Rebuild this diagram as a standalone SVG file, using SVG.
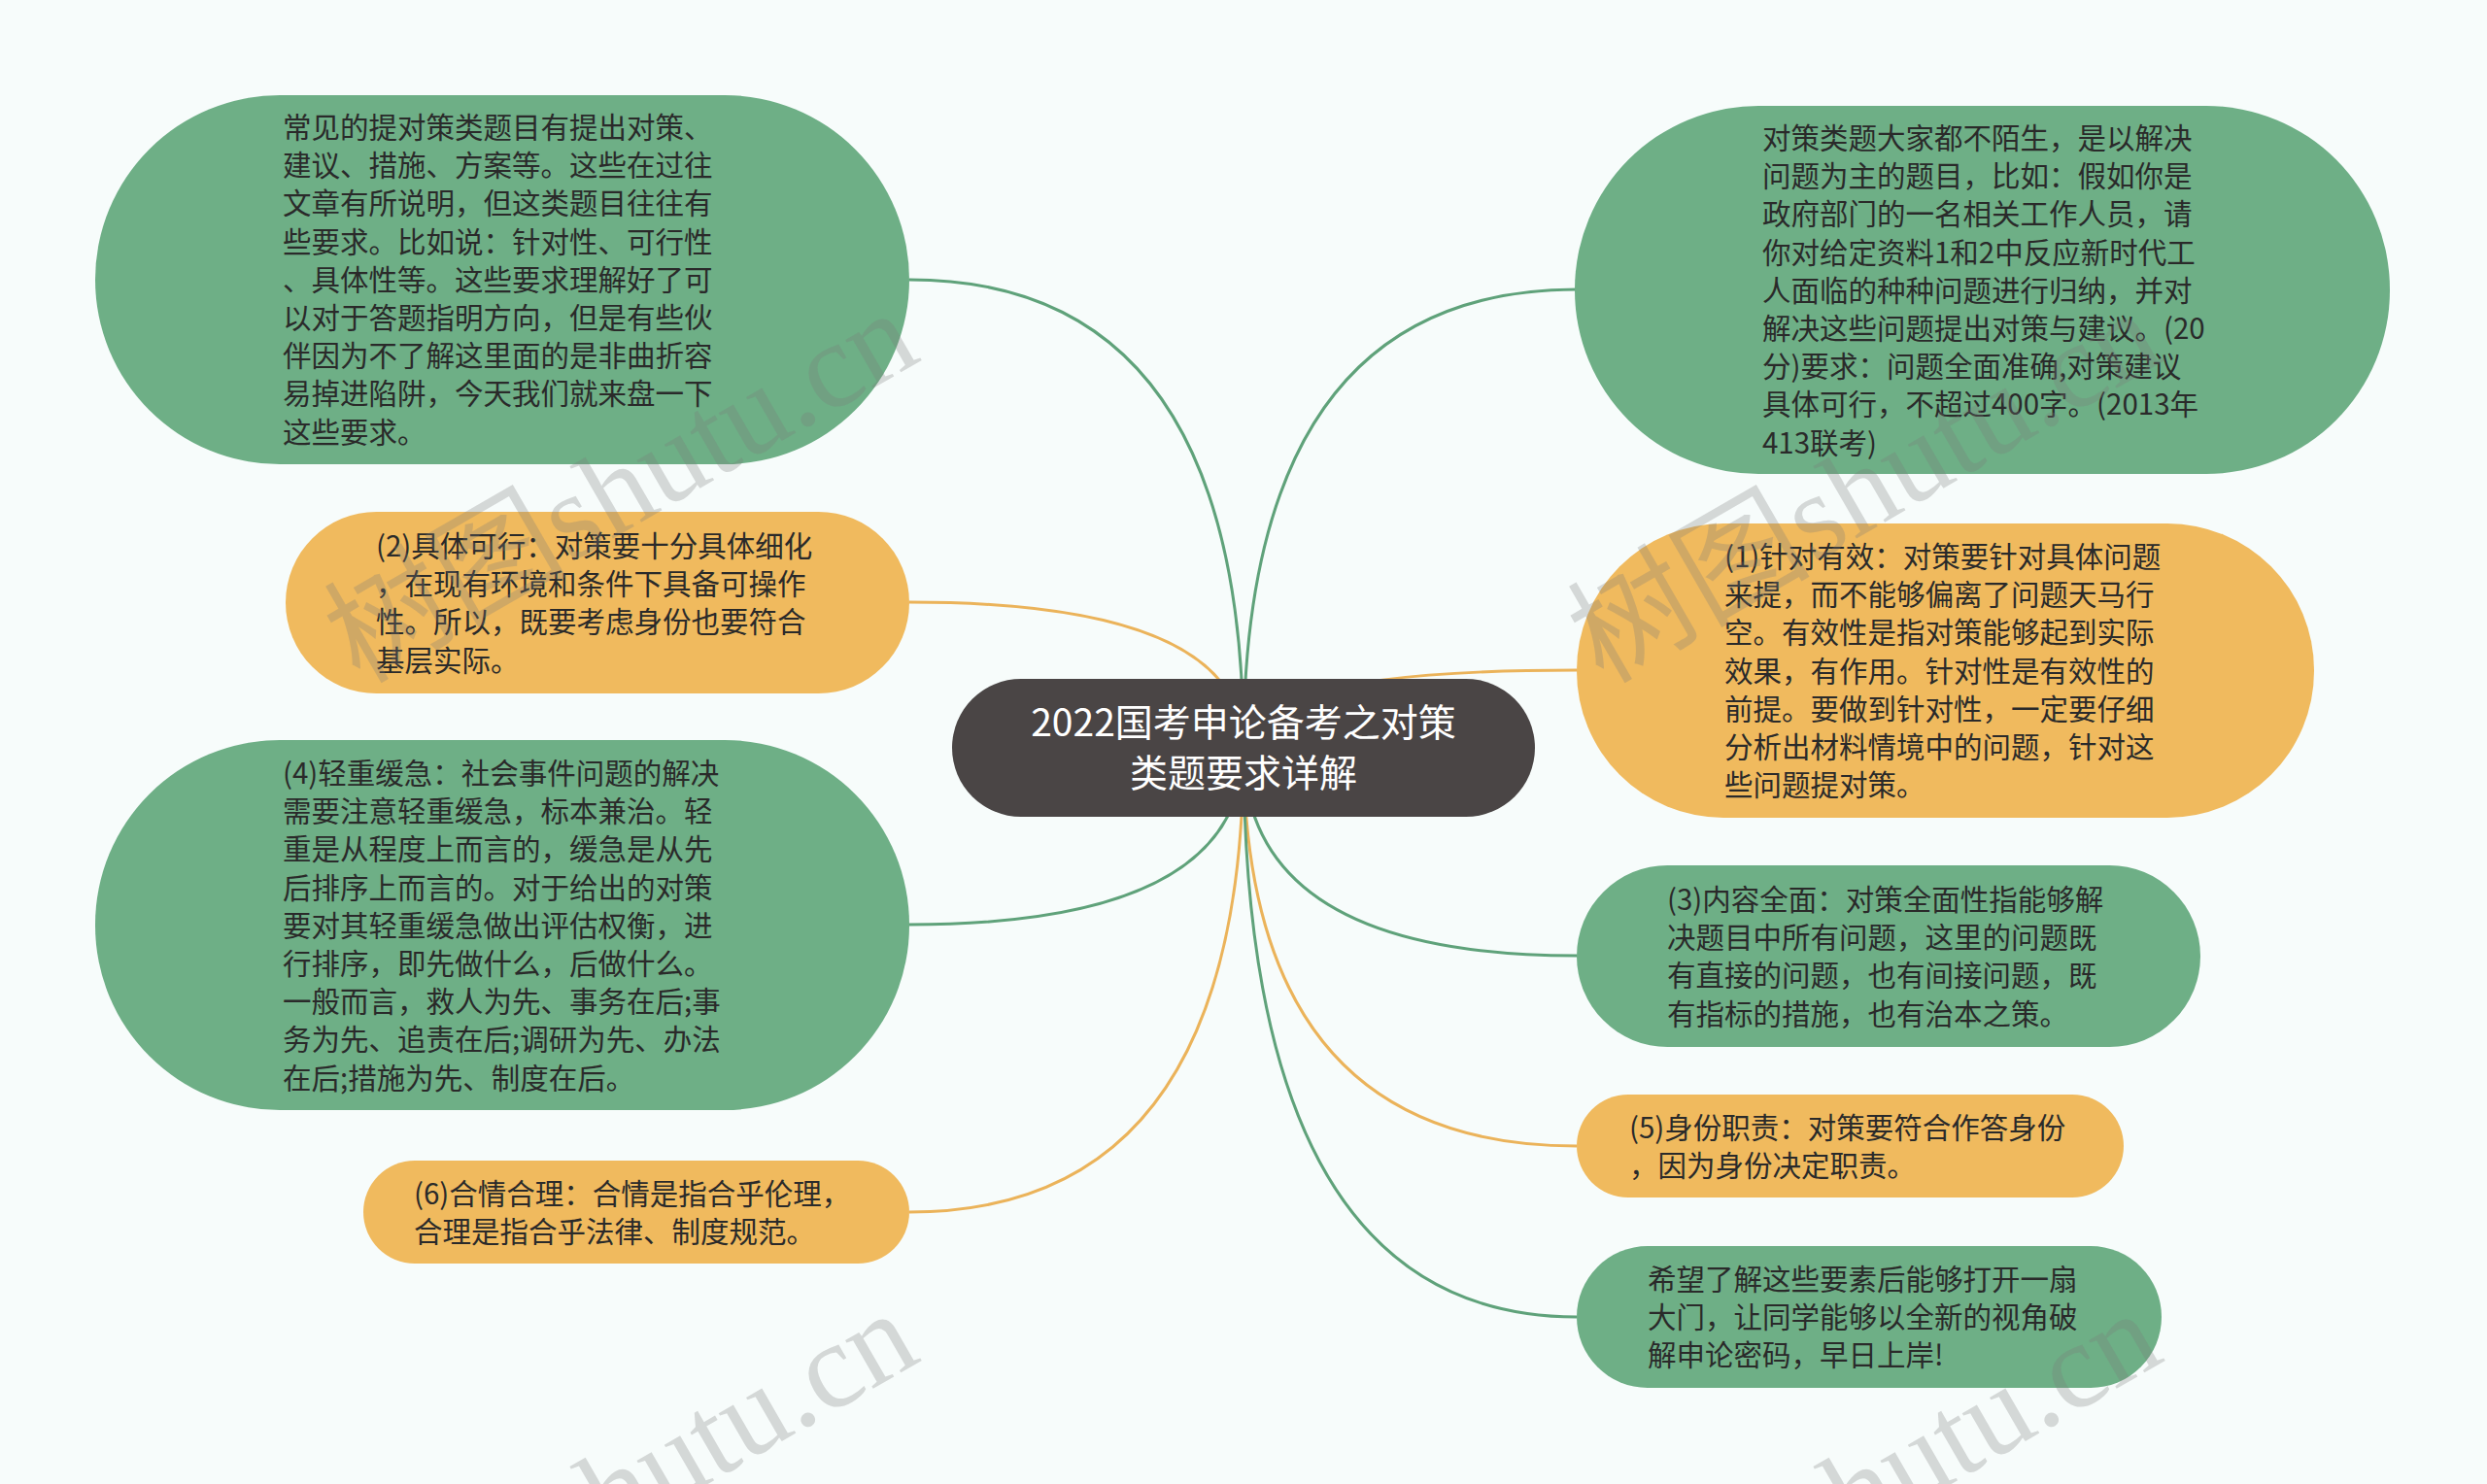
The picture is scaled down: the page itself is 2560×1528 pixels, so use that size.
<svg xmlns="http://www.w3.org/2000/svg" width="2560" height="1528" viewBox="0 0 2560 1528">
<style>
.bg{fill:#F7FCFB}
.g{fill:#6EAF86}
.o{fill:#F0BA5E}
.root{fill:#4A4545}
.t{font-family:"Noto Sans CJK SC","Microsoft YaHei",sans-serif;font-size:29.5px;fill:#2A2A2A}
.rt{font-family:"Noto Sans CJK SC",sans-serif;font-size:39px;fill:#FFFFFF;text-anchor:middle}
.lg{fill:none;stroke:#5FA27A;stroke-width:3}
.lo{fill:none;stroke:#EBB35A;stroke-width:3}
.wm{font-family:"Liberation Serif","Noto Sans CJK SC",serif;font-size:125px;fill:#7A7A7A;fill-opacity:0.28}
</style>
<rect class="bg" x="0" y="0" width="2560" height="1528"/>
<g id="connectors">
<path class="lg" d="M1280 770 Q1280 288 936 288"/>
<path class="lo" d="M1280 770 Q1280 620 936 620"/>
<path class="lg" d="M1280 770 Q1280 952 936 952"/>
<path class="lo" d="M1280 770 Q1280 1248 936 1248"/>
<path class="lg" d="M1280 770 Q1280 298 1623 298"/>
<path class="lo" d="M1280 770 Q1280 690 1623 690"/>
<path class="lg" d="M1280 770 Q1280 984 1623 984"/>
<path class="lo" d="M1280 770 Q1280 1180 1623 1180"/>
<path class="lg" d="M1280 770 Q1280 1356 1623 1356"/>
</g>
<g id="root">
<rect class="root" x="980" y="699" width="600" height="142" rx="71"/>
<text class="rt" x="1280" y="758">2022国考申论备考之对策</text>
<text class="rt" x="1280" y="810">类题要求详解</text>
</g>
<g id="L1">
<rect class="g" x="98" y="98" width="838" height="380" rx="190"/>
<text class="t" x="291" y="142">常见的提对策类题目有提出对策、</text>
<text class="t" x="291" y="181.2">建议、措施、方案等。这些在过往</text>
<text class="t" x="291" y="220.4">文章有所说明，但这类题目往往有</text>
<text class="t" x="291" y="259.6">些要求。比如说：针对性、可行性</text>
<text class="t" x="291" y="298.8">、具体性等。这些要求理解好了可</text>
<text class="t" x="291" y="338">以对于答题指明方向，但是有些伙</text>
<text class="t" x="291" y="377.2">伴因为不了解这里面的是非曲折容</text>
<text class="t" x="291" y="416.4">易掉进陷阱，今天我们就来盘一下</text>
<text class="t" x="291" y="455.6">这些要求。</text>
</g>
<g id="L2">
<rect class="o" x="294" y="527" width="642" height="187" rx="93.5"/>
<text class="t" x="387" y="573">(2)具体可行：对策要十分具体细化</text>
<text class="t" x="387" y="612.2">，在现有环境和条件下具备可操作</text>
<text class="t" x="387" y="651.4">性。所以，既要考虑身份也要符合</text>
<text class="t" x="387" y="690.6">基层实际。</text>
</g>
<g id="L3">
<rect class="g" x="98" y="762" width="838" height="381" rx="190"/>
<text class="t" x="291" y="807">(4)轻重缓急：社会事件问题的解决</text>
<text class="t" x="291" y="846.2">需要注意轻重缓急，标本兼治。轻</text>
<text class="t" x="291" y="885.4">重是从程度上而言的，缓急是从先</text>
<text class="t" x="291" y="924.6">后排序上而言的。对于给出的对策</text>
<text class="t" x="291" y="963.8">要对其轻重缓急做出评估权衡，进</text>
<text class="t" x="291" y="1003">行排序，即先做什么，后做什么。</text>
<text class="t" x="291" y="1042.2">一般而言，救人为先、事务在后;事</text>
<text class="t" x="291" y="1081.4">务为先、追责在后;调研为先、办法</text>
<text class="t" x="291" y="1120.6">在后;措施为先、制度在后。</text>
</g>
<g id="L4">
<rect class="o" x="374" y="1195" width="562" height="106" rx="53"/>
<text class="t" x="426" y="1239.5">(6)合情合理：合情是指合乎伦理，</text>
<text class="t" x="426" y="1278.7">合理是指合乎法律、制度规范。</text>
</g>
<g id="R1">
<rect class="g" x="1621" y="109" width="839" height="379" rx="189"/>
<text class="t" x="1814" y="153">对策类题大家都不陌生，是以解决</text>
<text class="t" x="1814" y="192.2">问题为主的题目，比如：假如你是</text>
<text class="t" x="1814" y="231.4">政府部门的一名相关工作人员，请</text>
<text class="t" x="1814" y="270.6">你对给定资料1和2中反应新时代工</text>
<text class="t" x="1814" y="309.8">人面临的种种问题进行归纳，并对</text>
<text class="t" x="1814" y="349">解决这些问题提出对策与建议。(20</text>
<text class="t" x="1814" y="388.2">分)要求：问题全面准确,对策建议</text>
<text class="t" x="1814" y="427.4">具体可行，不超过400字。(2013年</text>
<text class="t" x="1814" y="466.6">413联考)</text>
</g>
<g id="R2">
<rect class="o" x="1623" y="539" width="759" height="303" rx="151"/>
<text class="t" x="1775" y="584">(1)针对有效：对策要针对具体问题</text>
<text class="t" x="1775" y="623.2">来提，而不能够偏离了问题天马行</text>
<text class="t" x="1775" y="662.4">空。有效性是指对策能够起到实际</text>
<text class="t" x="1775" y="701.6">效果，有作用。针对性是有效性的</text>
<text class="t" x="1775" y="740.8">前提。要做到针对性，一定要仔细</text>
<text class="t" x="1775" y="780">分析出材料情境中的问题，针对这</text>
<text class="t" x="1775" y="819.2">些问题提对策。</text>
</g>
<g id="R3">
<rect class="g" x="1623" y="891" width="642" height="187" rx="93.5"/>
<text class="t" x="1716" y="937">(3)内容全面：对策全面性指能够解</text>
<text class="t" x="1716" y="976.2">决题目中所有问题，这里的问题既</text>
<text class="t" x="1716" y="1015.4">有直接的问题，也有间接问题，既</text>
<text class="t" x="1716" y="1054.6">有指标的措施，也有治本之策。</text>
</g>
<g id="R4">
<rect class="o" x="1623" y="1127" width="563" height="106" rx="53"/>
<text class="t" x="1677" y="1171.5">(5)身份职责：对策要符合作答身份</text>
<text class="t" x="1677" y="1210.7">，因为身份决定职责。</text>
</g>
<g id="R5">
<rect class="g" x="1623" y="1283" width="602" height="146" rx="73"/>
<text class="t" x="1696" y="1328">希望了解这些要素后能够打开一扇</text>
<text class="t" x="1696" y="1367.2">大门，让同学能够以全新的视角破</text>
<text class="t" x="1696" y="1406.4">解申论密码，早日上岸!</text>
</g>
<g id="watermarks">
<text class="wm" x="370" y="705" transform="rotate(-30 370 705)">树图shutu.cn</text>
<text class="wm" x="1650" y="705" transform="rotate(-30 1650 705)">树图shutu.cn</text>
<text class="wm" x="370" y="1735" transform="rotate(-30 370 1735)">树图shutu.cn</text>
<text class="wm" x="1650" y="1735" transform="rotate(-30 1650 1735)">树图shutu.cn</text>
</g>
</svg>
